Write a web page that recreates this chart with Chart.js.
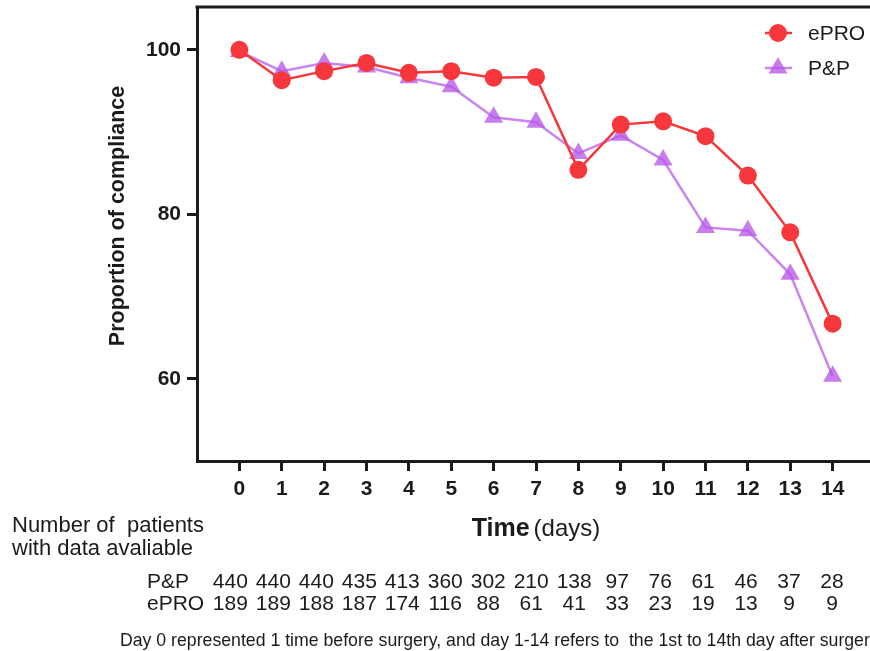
<!DOCTYPE html>
<html>
<head>
<meta charset="utf-8">
<script src="https://cdn.jsdelivr.net/npm/chart.js@4.4.1/dist/chart.umd.min.js"></script>
<style>
  html, body { margin: 0; padding: 0; background: #fff; overflow: hidden; }
  #wrap { width: 880px; height: 651px; position: relative; overflow: hidden; }
  #chart { display: block; }
</style>
</head>
<body>
<div id="wrap"><canvas id="chart" width="880" height="651"></canvas></div>
<script>
// days on the x axis
const days = [0, 1, 2, 3, 4, 5, 6, 7, 8, 9, 10, 11, 12, 13, 14];
// proportion of compliance
const eproValues = [100, 96.3, 97.4, 98.4, 97.2, 97.4, 96.6, 96.7, 85.4, 90.9, 91.3, 89.5, 84.7, 77.8, 66.7];
const ppValues = [99.8, 97.4, 98.4, 97.9, 96.6, 95.5, 91.8, 91.2, 87.4, 89.6, 86.6, 78.4, 78.0, 72.7, 60.3];
const yTicks = [60, 80, 100];
// number of patients with data available
const ppCounts = [440, 440, 440, 435, 413, 360, 302, 210, 138, 97, 76, 61, 46, 37, 28];
const eproCounts = [189, 189, 188, 187, 174, 116, 88, 61, 41, 33, 23, 19, 13, 9, 9];
const rowLabels = ['P&P', 'ePRO'];
const sideNote = ['Number of  patients', 'with data avaliable'];
const footNote = 'Day 0 represented 1 time before surgery, and day 1-14 refers to  the 1st to 14th day after surgery';

const RED = 'rgb(246, 56, 60)';
const PURPLE_LINE = 'rgba(196, 120, 240, 0.9)';
const PURPLE_FILL = 'rgba(184, 88, 232, 0.78)';
const INK = '#1b1b1b';
const FONT = '"Liberation Sans", Arial, sans-serif';

const extras = {
  id: 'extras',
  afterDraw(chart) {
    const ctx = chart.ctx;
    const area = chart.chartArea;
    const x = chart.scales.x;
    ctx.save();
    ctx.fillStyle = INK;
    ctx.strokeStyle = INK;

    // top frame line
    ctx.lineWidth = 3;
    ctx.beginPath();
    ctx.moveTo(area.left - 1.5, area.top);
    ctx.lineTo(area.right + 10, area.top);
    ctx.stroke();

    // y title
    ctx.save();
    ctx.translate(118, area.top + 209);
    ctx.rotate(-Math.PI / 2);
    ctx.font = 'bold 21.5px ' + FONT;
    ctx.textAlign = 'center';
    ctx.textBaseline = 'middle';
    ctx.fillText('Proportion of compliance', 0, 0);
    ctx.restore();

    // legend
    const items = [
      { label: 'ePRO', style: 'circle', color: RED, line: RED },
      { label: 'P&P', style: 'triangle', color: PURPLE_FILL, line: PURPLE_LINE }
    ];
    items.forEach((it, i) => {
      const cx = area.right - 97;
      const cy = area.top + 26 + i * 35;
      ctx.strokeStyle = it.line;
      ctx.lineWidth = 2.5;
      ctx.beginPath();
      ctx.moveTo(cx - 13, cy);
      ctx.lineTo(cx + 14, cy);
      ctx.stroke();
      ctx.fillStyle = it.color;
      ctx.beginPath();
      if (it.style === 'circle') {
        ctx.arc(cx, cy, 9, 0, Math.PI * 2);
      } else {
        const r = 11;
        for (let k = 0; k < 3; k++) {
          const a = k * 2 * Math.PI / 3;
          const px = cx + Math.sin(a) * r, py = cy - Math.cos(a) * r;
          if (k === 0) ctx.moveTo(px, py); else ctx.lineTo(px, py);
        }
        ctx.closePath();
      }
      ctx.fill();
      ctx.fillStyle = INK;
      ctx.font = '21px ' + FONT;
      ctx.textAlign = 'left';
      ctx.textBaseline = 'middle';
      ctx.fillText(it.label, cx + 30, cy + 1);
    });

    // x title: bold "Time" + regular "(days)"
    ctx.textBaseline = 'alphabetic';
    ctx.font = 'bold 25px ' + FONT;
    const w1 = ctx.measureText('Time').width;
    ctx.font = '24px ' + FONT;
    const w2 = ctx.measureText('(days)').width;
    const gap = 4;
    const tx = (area.left + area.right) / 2 - (w1 + gap + w2) / 2;
    const titleY = area.bottom + 75;
    ctx.textAlign = 'left';
    ctx.font = 'bold 25px ' + FONT;
    ctx.fillText('Time', tx, titleY);
    ctx.font = '24px ' + FONT;
    ctx.fillText('(days)', tx + w1 + gap, titleY);

    // side note
    ctx.font = '22px ' + FONT;
    sideNote.forEach((s, i) => ctx.fillText(s, 12, area.bottom + 71 + i * 23));

    // counts table
    ctx.font = '21px ' + FONT;
    [ppCounts, eproCounts].forEach((row, r) => {
      const by = area.bottom + 127 + r * 22;
      ctx.textAlign = 'left';
      ctx.fillText(rowLabels[r], 147, by);
      ctx.textAlign = 'center';
      row.forEach((n, i) => ctx.fillText(String(n), x.getPixelForValue(days[i]) - 9 + i * 0.6, by));
    });

    // footnote
    ctx.textAlign = 'left';
    ctx.font = '17.7px ' + FONT;
    ctx.fillText(footNote, 120, area.bottom + 185);
    ctx.restore();
  }
};

new Chart(document.getElementById('chart'), {
  type: 'line',
  data: {
    datasets: [
      {
        label: 'ePRO',
        data: days.map((d, i) => ({ x: d, y: eproValues[i] })),
        borderColor: RED,
        backgroundColor: RED,
        borderWidth: 2.5,
        pointStyle: 'circle',
        pointRadius: 9,
        pointBorderWidth: 0,
        pointBackgroundColor: RED,
        tension: 0
      },
      {
        label: 'P&P',
        data: days.map((d, i) => ({ x: d, y: ppValues[i] })),
        borderColor: PURPLE_LINE,
        backgroundColor: PURPLE_FILL,
        borderWidth: 2.5,
        pointStyle: 'triangle',
        pointRadius: 11,
        pointBorderWidth: 0,
        pointBackgroundColor: PURPLE_FILL,
        tension: 0
      }
    ]
  },
  options: {
    responsive: false,
    maintainAspectRatio: false,
    animation: false,
    layout: { autoPadding: false, padding: { left: 0, top: 7, right: 5, bottom: 0 } },
    plugins: { legend: { display: false }, tooltip: { enabled: false } },
    scales: {
      x: {
        type: 'linear',
        min: -1,
        max: 15,
        border: { width: 3, color: INK },
        grid: { drawOnChartArea: false, tickLength: 10, tickWidth: 3, tickColor: INK },
        ticks: { color: INK, padding: 6, font: { family: FONT, weight: 'bold', size: 21 } },
        afterBuildTicks(scale) { scale.ticks = days.map(v => ({ value: v })); },
        afterFit(scale) { scale.height = 190; }
      },
      y: {
        min: 50,
        max: 105.2,
        border: { width: 3, color: INK },
        grid: { drawOnChartArea: false, tickLength: 10, tickWidth: 3, tickColor: INK },
        ticks: { color: INK, padding: 6, font: { family: FONT, weight: 'bold', size: 21, lineHeight: 0.05 } },
        afterBuildTicks(scale) { scale.ticks = yTicks.map(v => ({ value: v })); },
        afterFit(scale) { scale.width = 197; }
      }
    }
  },
  plugins: [extras]
});
</script>
</body>
</html>
